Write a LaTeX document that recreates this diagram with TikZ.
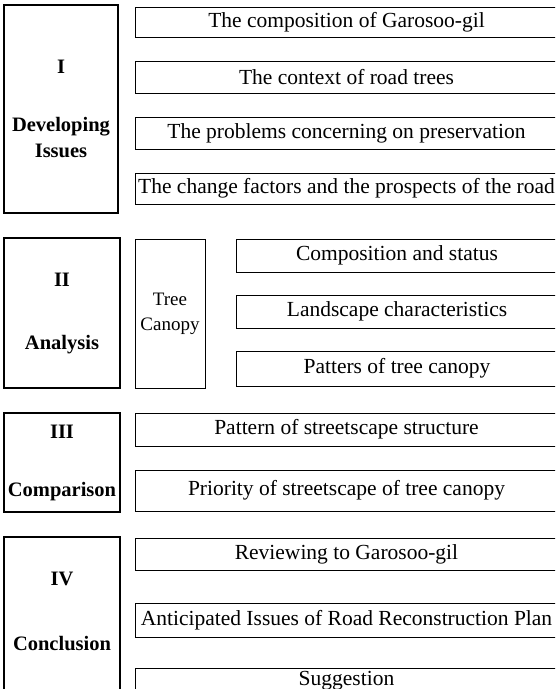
\documentclass[tikz,border=0pt]{standalone}
\usepackage{fontspec}
\setmainfont{Liberation Serif}
\begin{document}
\begin{tikzpicture}[x=1pt, y=-1pt,
  secbox/.style={draw, line width=2.2pt, align=center, inner sep=0pt, font=\fontsize{20.5}{26}\selectfont\bfseries},
  itembox/.style={draw, line width=0.9pt, align=center, inner sep=0pt, font=\fontsize{21.5}{25}\selectfont}]
\useasboundingbox (0,0) rectangle (555,689);
\clip (0,0) rectangle (555,689);
\node[secbox, minimum width=114pt, minimum height=208pt] (devel) at (61,109) {I\\[32pt]Developing\\Issues};
\node[itembox, minimum width=423pt, minimum height=30pt] (comp) at (346.5,22) {The composition of Garosoo-gil};
\node[itembox, minimum width=423pt, minimum height=32pt] (ctx) at (346.5,77) {The context of road trees};
\node[itembox, minimum width=423pt, minimum height=32pt] (prob) at (346.5,133) {The problems concerning on preservation};
\node[itembox, minimum width=423pt, minimum height=31pt] (chg) at (346.5,188.5) {The change factors and the prospects of the road};
\node[secbox, minimum width=116pt, minimum height=150pt] (anal) at (62,313) {II\\[37pt]Analysis};
\node[itembox, minimum width=70pt, minimum height=149pt, font=\fontsize{19}{25}\selectfont] (canopy) at (170,313.5) {Tree\\Canopy};
\node[itembox, minimum width=322pt, minimum height=33pt] (stat) at (397,255.5) {Composition and status};
\node[itembox, minimum width=322pt, minimum height=33pt] (land) at (397,311.5) {Landscape characteristics};
\node[itembox, minimum width=322pt, minimum height=35pt] (patt) at (397,368.5) {Patters of tree canopy};
\node[secbox, minimum width=116pt, minimum height=99pt] (compa) at (62,462.5) {III\\[32pt]Comparison};
\node[itembox, minimum width=423pt, minimum height=33pt] (struct) at (346.5,429.5) {Pattern of streetscape structure};
\node[itembox, minimum width=423pt, minimum height=41pt] (prio) at (346.5,490.5) {Priority of streetscape of tree canopy};
\node[secbox, minimum width=116pt, minimum height=165pt, text depth=17pt] (concl) at (62,619.5) {IV\\[39pt]Conclusion};
\node[itembox, minimum width=423pt, minimum height=32pt] (review) at (346.5,554) {Reviewing to Garosoo-gil};
\node[itembox, minimum width=423pt, minimum height=34pt] (recon) at (346.5,620) {Anticipated Issues of Road Reconstruction Plan};
\node[itembox, minimum width=423pt, minimum height=26pt] (sugg) at (346.5,681) {Suggestion};
\end{tikzpicture}
\end{document}
